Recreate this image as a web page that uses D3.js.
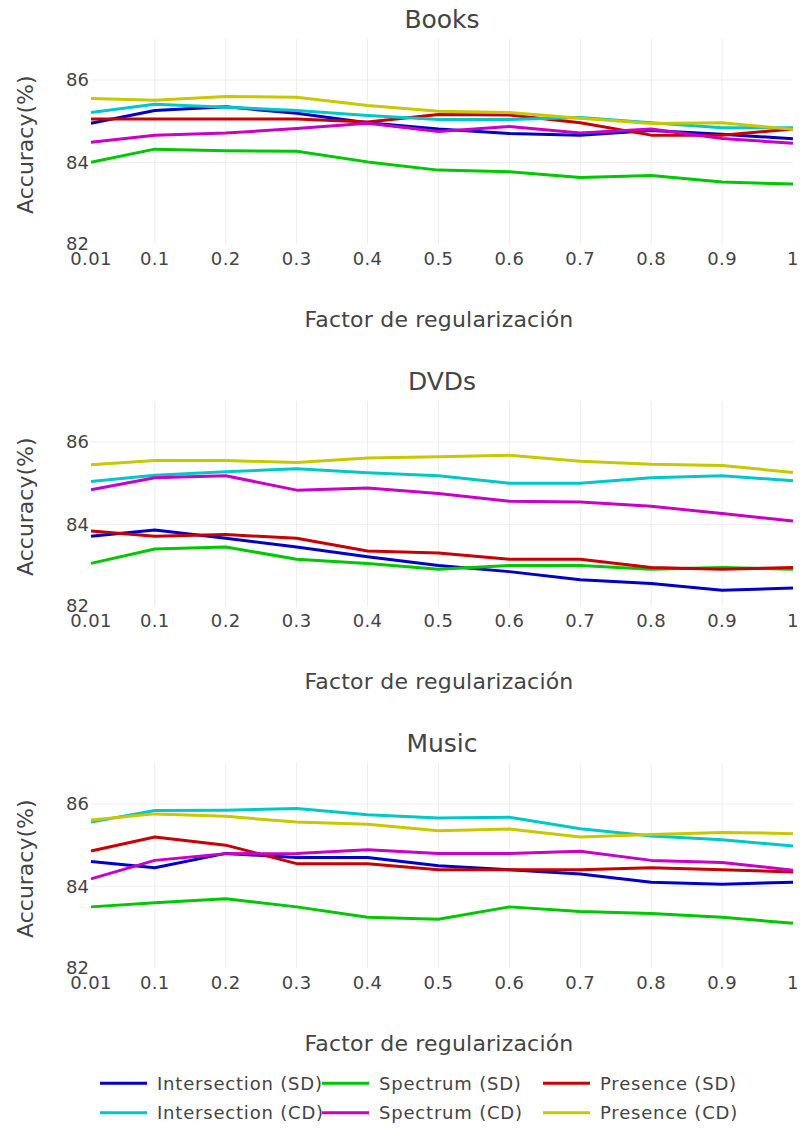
<!DOCTYPE html>
<html>
<head>
<meta charset="utf-8">
<script src="https://cdn.jsdelivr.net/npm/d3@7"></script>
<style>
  html, body { margin: 0; padding: 0; background: #fff; }
  svg { display: block; }
  text { font-family: "DejaVu Sans", Verdana, sans-serif; fill: #444; }
</style>
</head>
<body>
<svg id="chart" width="801" height="1129"></svg>
<script>
// ---------- data ----------
const xValues = [0.01, 0.1, 0.2, 0.3, 0.4, 0.5, 0.6, 0.7, 0.8, 0.9, 1];
const xTickLabels = ["0.01", "0.1", "0.2", "0.3", "0.4", "0.5", "0.6", "0.7", "0.8", "0.9", "1"];
const yTickValues = [82, 84, 86];
const panelTitles = ["Books", "DVDs", "Music"];
const seriesNames = ["Intersection (SD)", "Spectrum (SD)", "Presence (SD)",
                     "Intersection (CD)", "Spectrum (CD)", "Presence (CD)"];
const seriesColors = ["rgb(0,0,200)", "rgb(0,200,0)", "rgb(200,0,0)",
                      "rgb(0,200,200)", "rgb(200,0,200)", "rgb(200,200,0)"];

const booksIntersectionSD = [84.95, 85.26, 85.35, 85.19, 84.96, 84.81, 84.70, 84.66, 84.77, 84.68, 84.57];
const booksSpectrumSD     = [84.00, 84.32, 84.28, 84.27, 84.01, 83.81, 83.77, 83.63, 83.68, 83.52, 83.47];
const booksPresenceSD     = [85.05, 85.05, 85.05, 85.05, 84.98, 85.16, 85.15, 84.96, 84.66, 84.66, 84.81];
const booksIntersectionCD = [85.21, 85.41, 85.34, 85.26, 85.14, 85.04, 85.04, 85.09, 84.96, 84.84, 84.84];
const booksSpectrumCD     = [84.49, 84.66, 84.71, 84.82, 84.95, 84.75, 84.87, 84.71, 84.81, 84.58, 84.46];
const booksPresenceCD     = [85.55, 85.51, 85.60, 85.58, 85.38, 85.24, 85.21, 85.07, 84.94, 84.96, 84.80];

const dvdsIntersectionSD = [83.71, 83.86, 83.66, 83.45, 83.21, 83.00, 82.85, 82.65, 82.56, 82.40, 82.45];
const dvdsSpectrumSD     = [83.05, 83.40, 83.45, 83.15, 83.05, 82.91, 83.00, 83.00, 82.91, 82.95, 82.91];
const dvdsPresenceSD     = [83.84, 83.71, 83.75, 83.66, 83.35, 83.30, 83.15, 83.15, 82.95, 82.91, 82.95];
const dvdsIntersectionCD = [85.04, 85.19, 85.28, 85.35, 85.25, 85.18, 85.00, 85.00, 85.13, 85.18, 85.06];
const dvdsSpectrumCD     = [84.84, 85.13, 85.18, 84.83, 84.88, 84.75, 84.56, 84.54, 84.44, 84.26, 84.08];
const dvdsPresenceCD     = [85.45, 85.55, 85.55, 85.50, 85.61, 85.64, 85.68, 85.53, 85.46, 85.43, 85.26];

const musicIntersectionSD = [84.60, 84.45, 84.80, 84.70, 84.70, 84.50, 84.40, 84.30, 84.10, 84.05, 84.10];
const musicSpectrumSD     = [83.50, 83.60, 83.70, 83.50, 83.25, 83.20, 83.50, 83.39, 83.34, 83.25, 83.10];
const musicPresenceSD     = [84.86, 85.20, 85.00, 84.55, 84.55, 84.40, 84.40, 84.40, 84.45, 84.40, 84.35];
const musicIntersectionCD = [85.56, 85.84, 85.85, 85.89, 85.74, 85.66, 85.68, 85.40, 85.22, 85.13, 84.98];
const musicSpectrumCD     = [84.18, 84.63, 84.79, 84.80, 84.89, 84.80, 84.80, 84.85, 84.63, 84.58, 84.39];
const musicPresenceCD     = [85.61, 85.76, 85.70, 85.56, 85.51, 85.35, 85.39, 85.20, 85.26, 85.31, 85.28];

const panelSeries = [
  [booksIntersectionSD, booksSpectrumSD, booksPresenceSD, booksIntersectionCD, booksSpectrumCD, booksPresenceCD],
  [dvdsIntersectionSD, dvdsSpectrumSD, dvdsPresenceSD, dvdsIntersectionCD, dvdsSpectrumCD, dvdsPresenceCD],
  [musicIntersectionSD, musicSpectrumSD, musicPresenceSD, musicIntersectionCD, musicSpectrumCD, musicPresenceCD]
];

// ---------- layout ----------
const svg = d3.select("#chart");
const plotLeft = 91, plotRight = 793;
const plotHeight = 205.75;
const panelTops = [38.85, 400.85, 762.85];

const x = d3.scaleLinear().domain([0.01, 1]).range([plotLeft, plotRight]);

panelTops.forEach((top, p) => {
  const bottom = top + plotHeight;
  const y = d3.scaleLinear().domain([82, 87]).range([bottom, top]);
  const g = svg.append("g");

  // grid lines (edges omitted)
  g.selectAll(".vgrid").data(xValues.filter(v => v > 0.01 && v < 1)).enter()
    .append("line")
    .attr("x1", d => x(d)).attr("x2", d => x(d))
    .attr("y1", top).attr("y2", bottom)
    .attr("stroke", "#eee").attr("stroke-width", 1);
  g.selectAll(".hgrid").data(yTickValues.filter(v => v > 82)).enter()
    .append("line")
    .attr("x1", plotLeft).attr("x2", plotRight)
    .attr("y1", d => y(d)).attr("y2", d => y(d))
    .attr("stroke", "#eee").attr("stroke-width", 1);

  // lines
  const line = d3.line().x((d, i) => x(xValues[i])).y(d => y(d));
  panelSeries[p].forEach((vals, s) => {
    g.append("path")
      .datum(vals)
      .attr("d", line)
      .attr("fill", "none")
      .attr("stroke", seriesColors[s])
      .attr("stroke-width", 3)
      .attr("stroke-linejoin", "round");
  });

  // x tick labels
  g.selectAll(".xt").data(xValues).enter()
    .append("text")
    .attr("x", d => x(d))
    .attr("y", bottom + 20)
    .attr("text-anchor", "middle")
    .attr("font-size", 18)
    .attr("letter-spacing", 0.4)
    .text((d, i) => xTickLabels[i]);

  // y tick labels
  g.selectAll(".yt").data(yTickValues).enter()
    .append("text")
    .attr("x", plotLeft - 2)
    .attr("y", d => y(d) - (d === 82 ? 1.5 : 0))
    .attr("dy", "0.36em")
    .attr("text-anchor", "end")
    .attr("font-size", 18)
    .text(d => d);

  // panel title
  g.append("text")
    .attr("x", (plotLeft + plotRight) / 2)
    .attr("y", top - 10.5)
    .attr("text-anchor", "middle")
    .attr("font-size", 25)
    .text(panelTitles[p]);

  // x axis title
  g.append("text")
    .attr("x", (plotLeft + plotRight) / 2 - 3)
    .attr("y", bottom + 82)
    .attr("text-anchor", "middle")
    .attr("font-size", 22)
    .attr("letter-spacing", 0.2)
    .text("Factor de regularización");

  // y axis title
  g.append("text")
    .attr("transform", `translate(33,${(top + bottom) / 2 + 3}) rotate(-90)`)
    .attr("text-anchor", "middle")
    .attr("font-size", 22)
    .text("Accuracy(%)");
});

// ---------- legend ----------
const legendCols = [100, 322, 543];
const legendRows = [1083.3, 1112.7];
seriesNames.forEach((name, i) => {
  const cx = legendCols[i % 3];
  const cy = legendRows[Math.floor(i / 3)];
  const lg = svg.append("g");
  lg.append("line")
    .attr("x1", cx).attr("x2", cx + 47)
    .attr("y1", cy).attr("y2", cy)
    .attr("stroke", seriesColors[i]).attr("stroke-width", 3);
  lg.append("text")
    .attr("x", cx + 57)
    .attr("y", cy)
    .attr("dy", "0.36em")
    .attr("font-size", 18)
    .attr("letter-spacing", 0.8)
    .text(name);
});
</script>
</body>
</html>
